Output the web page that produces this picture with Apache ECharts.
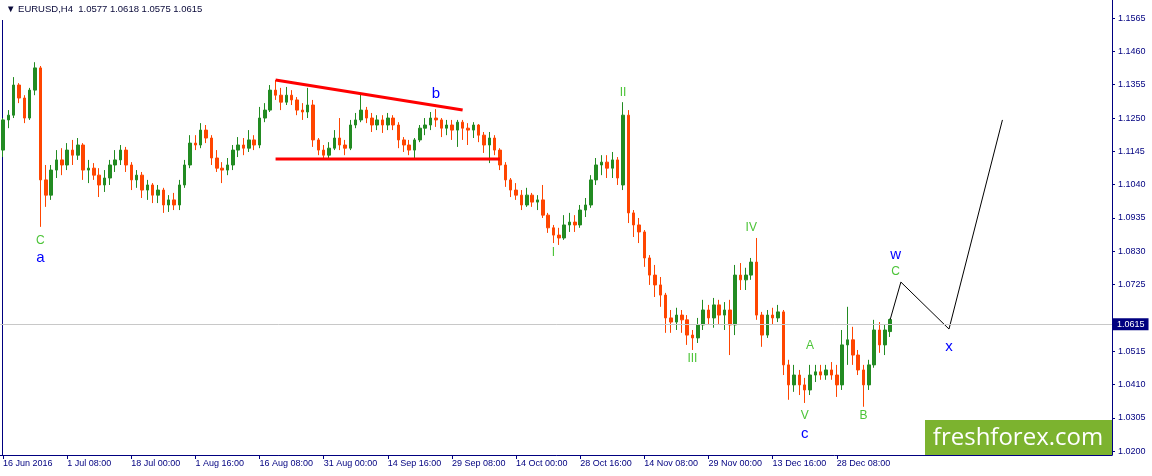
<!DOCTYPE html>
<html>
<head>
<meta charset="utf-8">
<script src="https://cdn.jsdelivr.net/npm/echarts@6/dist/echarts.min.js"></script>
<style>
  html, body { margin: 0; padding: 0; background: #fff; }
  #canvas { width: 1152px; height: 476px; }
</style>
</head>
<body>
<div id="canvas"></div>
<script>
// EURUSD H4, one candle per ~5 H4 bars, [open, close, low, high]
const candles = [
  [1.1149,1.1244,1.1127,1.1250],[1.1244,1.1259,1.1218,1.1275],[1.1259,1.1354,1.1250,1.1379],[1.1354,1.1313,1.1297,1.1360],
  [1.1313,1.1250,1.1234,1.1322],[1.1250,1.1338,1.1244,1.1345],[1.1338,1.1408,1.1322,1.1426],[1.1408,1.1055,1.0907,1.1414],
  [1.1055,1.1007,1.0970,1.1102],[1.1007,1.1086,1.0992,1.1102],[1.1086,1.1118,1.1061,1.1149],[1.1118,1.1102,1.1070,1.1155],
  [1.1102,1.1149,1.1086,1.1171],[1.1149,1.1133,1.1102,1.1181],[1.1133,1.1165,1.1118,1.1187],[1.1165,1.1086,1.1055,1.1171],
  [1.1086,1.1092,1.1045,1.1118],[1.1092,1.1070,1.1055,1.1108],[1.1070,1.1039,1.1001,1.1092],[1.1039,1.1061,1.1017,1.1086],
  [1.1061,1.1102,1.1039,1.1118],[1.1102,1.1118,1.1080,1.1149],[1.1118,1.1149,1.1102,1.1165],[1.1149,1.1102,1.1080,1.1159],
  [1.1102,1.1055,1.1023,1.1111],[1.1055,1.1070,1.1030,1.1086],[1.1070,1.1023,1.0998,1.1080],[1.1023,1.1039,1.0992,1.1055],
  [1.1039,1.1007,1.0982,1.1045],[1.1007,1.1023,1.0982,1.1039],[1.1023,1.0976,1.0951,1.1030],[1.0976,1.0992,1.0954,1.1007],
  [1.0992,1.0976,1.0960,1.1014],[1.0976,1.1039,1.0960,1.1055],[1.1039,1.1102,1.1030,1.1118],[1.1102,1.1171,1.1092,1.1196],
  [1.1171,1.1165,1.1149,1.1196],[1.1165,1.1212,1.1155,1.1234],[1.1212,1.1187,1.1171,1.1228],[1.1187,1.1124,1.1102,1.1196],
  [1.1124,1.1092,1.1080,1.1149],[1.1092,1.1086,1.1045,1.1111],[1.1086,1.1102,1.1070,1.1124],[1.1102,1.1149,1.1086,1.1165],
  [1.1149,1.1165,1.1127,1.1190],[1.1165,1.1155,1.1133,1.1187],[1.1155,1.1181,1.1143,1.1212],[1.1181,1.1165,1.1149,1.1196],
  [1.1165,1.1250,1.1155,1.1285],[1.1250,1.1275,1.1237,1.1297],[1.1275,1.1338,1.1269,1.1354],[1.1338,1.1322,1.1307,1.1370],
  [1.1322,1.1300,1.1275,1.1345],[1.1300,1.1322,1.1291,1.1348],[1.1322,1.1307,1.1291,1.1338],[1.1307,1.1275,1.1259,1.1316],
  [1.1275,1.1269,1.1244,1.1297],[1.1269,1.1291,1.1250,1.1345],[1.1291,1.1181,1.1159,1.1307],[1.1181,1.1149,1.1133,1.1187],
  [1.1149,1.1133,1.1124,1.1165],[1.1133,1.1155,1.1124,1.1174],[1.1155,1.1187,1.1149,1.1212],[1.1187,1.1165,1.1149,1.1250],
  [1.1165,1.1155,1.1133,1.1181],[1.1155,1.1228,1.1149,1.1244],[1.1228,1.1244,1.1218,1.1266],[1.1244,1.1275,1.1237,1.1329],
  [1.1275,1.1250,1.1234,1.1285],[1.1250,1.1228,1.1206,1.1266],[1.1228,1.1244,1.1212,1.1259],[1.1244,1.1228,1.1203,1.1259],
  [1.1228,1.1250,1.1212,1.1266],[1.1250,1.1228,1.1212,1.1259],[1.1228,1.1181,1.1155,1.1237],[1.1181,1.1165,1.1143,1.1190],
  [1.1165,1.1149,1.1133,1.1181],[1.1149,1.1181,1.1124,1.1187],[1.1181,1.1218,1.1174,1.1228],[1.1218,1.1228,1.1196,1.1250],
  [1.1228,1.1250,1.1212,1.1269],[1.1250,1.1244,1.1222,1.1278],[1.1244,1.1218,1.1190,1.1250],[1.1218,1.1228,1.1196,1.1244],
  [1.1228,1.1212,1.1181,1.1244],[1.1212,1.1237,1.1159,1.1244],[1.1237,1.1218,1.1181,1.1244],[1.1218,1.1212,1.1165,1.1234],
  [1.1212,1.1228,1.1187,1.1237],[1.1228,1.1196,1.1174,1.1231],[1.1196,1.1165,1.1140,1.1206],[1.1165,1.1187,1.1108,1.1206],
  [1.1187,1.1149,1.1133,1.1196],[1.1149,1.1102,1.1086,1.1155],[1.1102,1.1055,1.1033,1.1111],[1.1055,1.1023,1.1001,1.1061],
  [1.1023,1.1007,1.0992,1.1045],[1.1007,1.0976,1.0960,1.1023],[1.0976,1.1007,1.0970,1.1030],[1.1007,1.0985,1.0970,1.1014],
  [1.0985,1.0992,1.0960,1.1007],[1.0992,1.0944,1.0935,1.1039],[1.0944,1.0904,1.0888,1.0951],[1.0904,1.0881,1.0856,1.0913],
  [1.0881,1.0872,1.0850,1.0904],[1.0872,1.0913,1.0866,1.0944],[1.0913,1.0922,1.0891,1.0951],[1.0922,1.0913,1.0891,1.0944],
  [1.0913,1.0960,1.0904,1.0976],[1.0960,1.0976,1.0938,1.0998],[1.0976,1.1055,1.0967,1.1070],[1.1055,1.1102,1.1039,1.1124],
  [1.1102,1.1111,1.1070,1.1133],[1.1111,1.1092,1.1061,1.1133],[1.1092,1.1118,1.1061,1.1143],[1.1118,1.1061,1.1039,1.1127],
  [1.1039,1.1259,1.1023,1.1300],[1.1259,1.0951,1.0919,1.1275],[1.0951,1.0913,1.0875,1.0960],[1.0913,1.0891,1.0856,1.0935],
  [1.0891,1.0809,1.0781,1.0897],[1.0809,1.0755,1.0724,1.0818],[1.0755,1.0724,1.0686,1.0787],[1.0724,1.0692,1.0655,1.0749],
  [1.0692,1.0620,1.0573,1.0699],[1.0620,1.0607,1.0573,1.0645],[1.0607,1.0629,1.0582,1.0652],[1.0629,1.0614,1.0573,1.0645],
  [1.0614,1.0566,1.0535,1.0629],[1.0566,1.0557,1.0519,1.0582],[1.0557,1.0598,1.0541,1.0620],[1.0598,1.0645,1.0582,1.0677],
  [1.0645,1.0620,1.0598,1.0661],[1.0620,1.0661,1.0589,1.0683],[1.0661,1.0629,1.0598,1.0677],[1.0629,1.0645,1.0582,1.0670],
  [1.0645,1.0598,1.0503,1.0677],[1.0598,1.0755,1.0566,1.0787],[1.0755,1.0740,1.0708,1.0793],[1.0740,1.0755,1.0708,1.0778],
  [1.0755,1.0796,1.0740,1.0809],[1.0796,1.0629,1.0614,1.0872],[1.0629,1.0566,1.0529,1.0639],[1.0566,1.0629,1.0557,1.0645],
  [1.0629,1.0620,1.0598,1.0652],[1.0620,1.0639,1.0607,1.0661],[1.0639,1.0472,1.0440,1.0645],[1.0472,1.0409,1.0362,1.0488],
  [1.0409,1.0440,1.0387,1.0472],[1.0440,1.0409,1.0377,1.0456],[1.0409,1.0393,1.0352,1.0431],[1.0393,1.0440,1.0377,1.0472],
  [1.0440,1.0450,1.0418,1.0472],[1.0450,1.0440,1.0425,1.0472],[1.0440,1.0456,1.0425,1.0472],[1.0456,1.0440,1.0425,1.0481],
  [1.0440,1.0409,1.0371,1.0472],[1.0409,1.0535,1.0393,1.0582],[1.0535,1.0551,1.0472,1.0655],[1.0551,1.0503,1.0472,1.0592],
  [1.0503,1.0456,1.0440,1.0519],[1.0456,1.0409,1.0340,1.0472],[1.0409,1.0472,1.0393,1.0488],[1.0472,1.0582,1.0463,1.0614],
  [1.0582,1.0535,1.0510,1.0607],[1.0535,1.0582,1.0503,1.0598],[1.0577,1.0615,1.0560,1.0618]
];
const totalSlots = 208;   // candles + empty space for the forecast
const labelEvery = 12;
const xLabels = ['16 Jun 2016', '1 Jul 08:00', '18 Jul 00:00', '1 Aug 16:00', '16 Aug 08:00', '31 Aug 00:00',
  '14 Sep 16:00', '29 Sep 08:00', '14 Oct 00:00', '28 Oct 16:00', '14 Nov 08:00', '29 Nov 00:00',
  '13 Dec 16:00', '28 Dec 08:00'];
const yTicks = [1.0200, 1.0305, 1.0410, 1.0515, 1.0725, 1.0830, 1.0935, 1.1040, 1.1145, 1.1250, 1.1355, 1.1460, 1.1565];
const lastPrice = 1.0615;

// red triangle lines (slot index, price)
const upperLine = [[51, 1.1370], [86, 1.1275]];
const lowerLine = [[51, 1.1121], [93, 1.1121]];
// black forecast path
const forecastIdx = [166, 168, 177, 187];
const forecastPrice = [1.0615, 1.0733, 1.0585, 1.1244];

// wave marks
const waveNames = ['C', 'a', 'b', 'I', 'II', 'III', 'IV', 'V', 'c', 'A', 'B', 'w', 'C', 'x'];
const waveIdx = [7, 7, 81, 103, 116, 129, 140, 150, 150, 151, 161, 167, 167, 177];
const wavePrice = [1.0863, 1.0809, 1.1326, 1.0825, 1.1329, 1.0491, 1.0904, 1.0311, 1.0255, 1.0532, 1.0311, 1.0818, 1.0765, 1.0529];
const waveDegree = ['minor', 'major', 'major', 'minor', 'minor', 'minor', 'minor', 'minor', 'major', 'minor', 'minor', 'major', 'minor', 'major'];

const navy = '#000080';
const font = 'Liberation Sans';

function drawChart(canvas = 'canvas') {
  const myChart = echarts.init(document.getElementById(canvas));
  const categories = Array.from({ length: totalSlots }, (_, i) => String(i));
  const showLabel = (i) => i % labelEvery === 0 && i / labelEvery < xLabels.length;

  const waveData = waveNames.map((name, i) => ({
    name,
    value: [waveIdx[i], wavePrice[i]],
    label: waveDegree[i] === 'major'
      ? { color: '#0000ff', fontSize: 15 }
      : { color: '#4cc438', fontSize: 12 }
  }));

  const option = {
    animation: false,
    backgroundColor: '#fff',
    grid: { left: 0, right: 40, top: 0, bottom: 21 },
    xAxis: {
      type: 'category',
      data: categories,
      boundaryGap: true,
      axisLine: { lineStyle: { color: navy, width: 1 } },
      axisTick: { show: true, alignWithLabel: true, interval: showLabel, length: 4, lineStyle: { color: navy } },
      axisLabel: {
        interval: showLabel,
        formatter: (v, i) => xLabels[i / labelEvery],
        align: 'left',
        margin: 4,
        color: navy,
        fontFamily: font,
        fontSize: 9
      },
      splitLine: { show: false }
    },
    yAxis: {
      type: 'value',
      position: 'right',
      min: 1.0188,
      max: 1.1622,
      axisLine: { show: true, lineStyle: { color: navy, width: 1 } },
      axisTick: { show: true, customValues: yTicks, length: 3, lineStyle: { color: navy } },
      axisLabel: {
        customValues: yTicks,
        formatter: (v) => v.toFixed(4),
        margin: 6,
        color: navy,
        fontFamily: font,
        fontSize: 9
      },
      splitLine: { show: false }
    },
    series: [
      {
        type: 'candlestick',
        data: candles,
        barWidth: 3,
        itemStyle: {
          color: '#228b22', color0: '#ff4500',
          borderColor: '#228b22', borderColor0: '#ff4500', borderWidth: 1
        },
        markLine: {
          silent: true,
          symbol: 'none',
          lineStyle: { color: '#c8c8c8', type: 'solid', width: 1 },
          label: {
            show: true,
            position: 'end',
            distance: 1,
            formatter: lastPrice.toFixed(4),
            color: '#fff',
            backgroundColor: navy,
            padding: [2, 4, 1, 4],
            fontFamily: font,
            fontSize: 9
          },
          data: [{ yAxis: lastPrice }]
        },
        z: 3
      },
      {
        type: 'line', data: upperLine, symbol: 'none', z: 4,
        lineStyle: { color: '#ff0000', width: 3 }
      },
      {
        type: 'line', data: lowerLine, symbol: 'none', z: 4,
        lineStyle: { color: '#ff0000', width: 3 }
      },
      {
        type: 'line',
        data: forecastIdx.map((x, i) => [x, forecastPrice[i]]),
        symbol: 'none',
        lineStyle: { color: '#000', width: 1 },
        z: 4
      },
      {
        // labels only, the symbol itself is invisible
        type: 'scatter',
        data: waveData,
        symbol: 'circle',
        symbolSize: 2,
        itemStyle: { color: 'rgba(0,0,0,0)', opacity: 1 },
        label: { show: true, position: 'inside', formatter: (p) => p.name, fontFamily: font },
        z: 5
      }
    ],
    graphic: [
      { type: 'line', shape: { x1: 2.5, y1: 20, x2: 2.5, y2: 455 }, style: { stroke: navy, lineWidth: 1 } },
      {
        type: 'text', left: 6, top: 4,
        style: { text: '\u25BC EURUSD,H4  1.0577 1.0618 1.0575 1.0615', fill: '#0a0a3a', font: '9.5px "Liberation Sans"' }
      },
      { type: 'rect', shape: { x: 925, y: 420, width: 187, height: 35 }, style: { fill: '#7cb32f' }, z: 10 },
      {
        type: 'text', x: 1018, y: 438, z: 11,
        style: { text: 'freshforex.com', fill: '#fff', font: '24px "Open Sans"', align: 'center', verticalAlign: 'middle' }
      }
    ]
  };
  myChart.setOption(option);
}

drawChart();
</script>
</body>
</html>
